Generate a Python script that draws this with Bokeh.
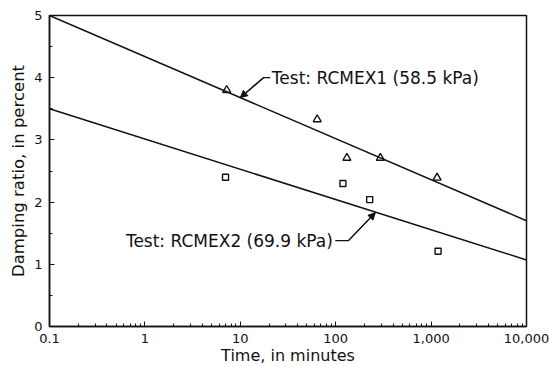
from bokeh.plotting import figure
from bokeh.models import (Range1d, LogTicker, SingleIntervalTicker, CustomJSTickFormatter,
                          Label, Arrow, NormalHead)
from bokeh.embed import file_html
from bokeh.resources import INLINE

# ---- data ----
tri_time = [7.2, 64, 131, 294, 1156]
tri_damp = [3.80, 3.33, 2.71, 2.71, 2.39]
sq_time = [7.0, 119, 227, 1183]
sq_damp = [2.40, 2.30, 2.04, 1.21]
fit1_time = [0.1, 10000]
fit1_damp = [5.0, 1.70]
fit2_time = [0.1, 10000]
fit2_damp = [3.5, 1.07]
label1 = "Test: RCMEX1 (58.5 kPa)"
label2 = "Test: RCMEX2 (69.9 kPa)"
# leader lines: text end -> corner -> point on fit line
lead1_x = [20.6, 17.5, 10.0]
lead1_y = [4.00, 4.00, 3.68]
lead2_x = [99, 136, 260]
lead2_y = [1.38, 1.38, 1.83]

FONT = "DejaVu Sans"
INK = "#111111"

p = figure(width=549, height=367, x_axis_type="log", output_backend="svg",
           toolbar_location=None, x_range=Range1d(0.1, 10000), y_range=Range1d(0, 5),
           min_border_left=49, min_border_right=23, min_border_top=15, min_border_bottom=41)
p.background_fill_color = "white"
p.border_fill_color = "white"
p.outline_line_color = INK
p.outline_line_width = 1.5
p.xgrid.visible = False
p.ygrid.visible = False

# fitted lines
p.line(fit1_time, fit1_damp, line_color=INK, line_width=1.5)
p.line(fit2_time, fit2_damp, line_color=INK, line_width=1.5)

# data points
p.scatter(tri_time, tri_damp, marker="triangle", size=8, fill_color=None,
          line_color=INK, line_width=1.4)
p.scatter(sq_time, sq_damp, marker="square", size=6, fill_color=None,
          line_color=INK, line_width=1.4)

# leader lines with arrowheads
p.line(lead1_x, lead1_y, line_color=INK, line_width=1.2)
p.line(lead2_x, lead2_y, line_color=INK, line_width=1.2)
p.add_layout(Arrow(end=NormalHead(size=7, fill_color=INK, line_color=INK, line_width=1),
                   x_start=lead1_x[1], y_start=lead1_y[1], x_end=lead1_x[2], y_end=lead1_y[2],
                   line_color=INK, line_width=1.2))
p.add_layout(Arrow(end=NormalHead(size=7, fill_color=INK, line_color=INK, line_width=1),
                   x_start=lead2_x[1], y_start=lead2_y[1], x_end=lead2_x[2], y_end=lead2_y[2],
                   line_color=INK, line_width=1.2))

p.add_layout(Label(x=lead1_x[0] * 1.04, y=lead1_y[0], text=label1, text_align="left",
                   text_baseline="middle", text_font=FONT, text_font_size="17px",
                   text_color=INK))
p.add_layout(Label(x=lead2_x[0] / 1.06, y=lead2_y[0], text=label2, text_align="right",
                   text_baseline="middle", text_font=FONT, text_font_size="17px",
                   text_color=INK))

# axes
xa = p.xaxis[0]
xa.ticker = LogTicker(num_minor_ticks=10)
xa.formatter = CustomJSTickFormatter(code="""
if (tick < 1) { return tick.toFixed(1); }
return String(Math.round(tick)).replace(/\\B(?=(\\d{3})+(?!\\d))/g, ",");
""")
xa.axis_label = "Time, in minutes"

ya = p.yaxis[0]
ya.ticker = SingleIntervalTicker(interval=1, num_minor_ticks=2)
ya.axis_label = "Damping ratio, in percent"

for ax in (xa, ya):
    ax.axis_line_color = INK
    ax.axis_line_width = 1.5
    ax.major_tick_in = 5
    ax.major_tick_out = 0
    ax.minor_tick_in = 3
    ax.minor_tick_out = 0
    ax.major_tick_line_color = INK
    ax.minor_tick_line_color = INK
    ax.major_label_text_font = FONT
    ax.major_label_text_font_size = "13px"
    ax.major_label_text_color = INK
    ax.axis_label_text_font = FONT
    ax.axis_label_text_font_size = "16.5px"
    ax.axis_label_text_font_style = "normal"
    ax.axis_label_text_color = INK
xa.axis_label_text_font_size = "16px"
xa.major_label_standoff = 7
xa.axis_label_standoff = 0
ya.major_label_standoff = 7
ya.axis_label_standoff = 3

open("out.html", "w").write(file_html(p, INLINE))
